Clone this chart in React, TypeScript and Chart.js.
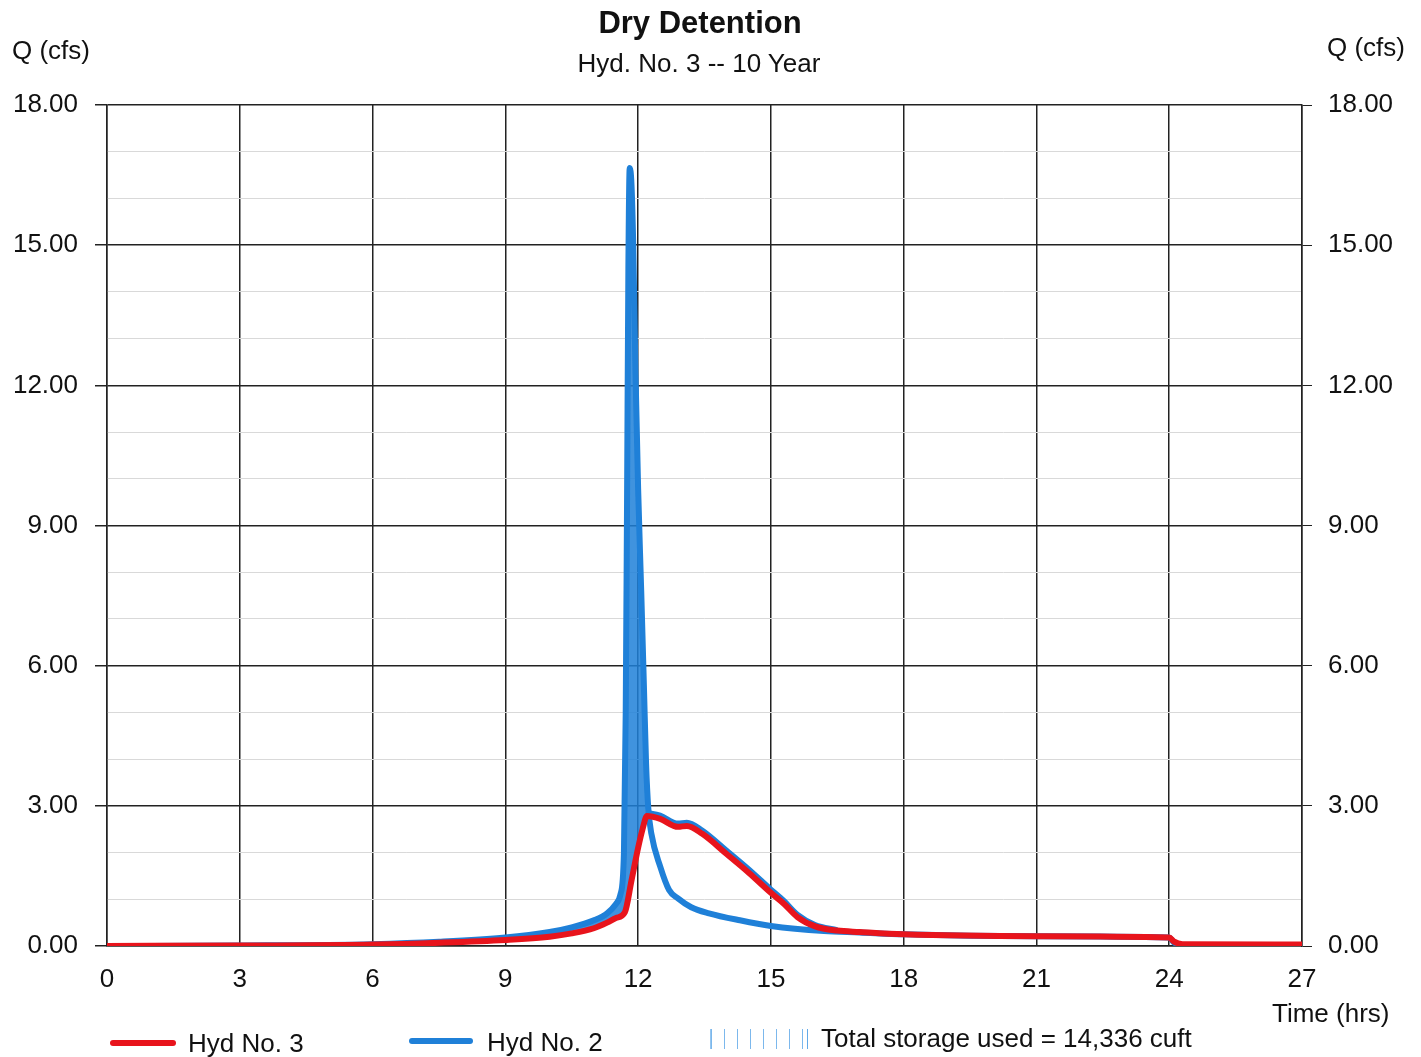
import React, { useEffect, useRef } from "react";
import { Chart, registerables } from "chart.js";

Chart.register(...registerables);

// ---- Data ----
const xTicks = [0, 3, 6, 9, 12, 15, 18, 21, 24, 27];
const yTickLabels = ["0.00", "3.00", "6.00", "9.00", "12.00", "15.00", "18.00"];

// Hyd No. 3 (outflow, red)
const hyd3Time = [0, 3, 6, 7.5, 9, 10, 10.5, 11, 11.3, 11.5, 11.7, 11.85, 12.0, 12.1, 12.2, 12.5, 12.9, 13.1, 13.45, 14.0, 14.5, 15.0, 15.3, 15.6, 16.0, 16.5, 17.0, 18.0, 21.0, 24.0, 24.1, 24.3, 27.0];
const hyd3Flow = [0, 0.01, 0.03, 0.07, 0.13, 0.2, 0.27, 0.38, 0.5, 0.6, 0.72, 1.4, 2.1, 2.5, 2.78, 2.72, 2.55, 2.57, 2.4, 1.97, 1.57, 1.14, 0.9, 0.62, 0.42, 0.33, 0.3, 0.25, 0.21, 0.18, 0.1, 0.04, 0.03];

// Hyd No. 2 (inflow, blue)
const hyd2Time = [0, 3, 6, 7.5, 9, 10, 10.5, 11, 11.3, 11.5, 11.6, 11.68, 11.72, 11.75, 11.78, 11.81, 11.85, 11.89, 11.94, 12.0, 12.07, 12.13, 12.18, 12.23, 12.3, 12.5, 12.7, 12.9, 13.2, 13.6, 14.3, 15.0, 16.2, 17.0, 18.0, 21.0, 24.0, 24.1, 24.3, 27.0];
const hyd2Flow = [0, 0.01, 0.04, 0.09, 0.18, 0.3, 0.4, 0.55, 0.7, 0.9, 1.1, 2.0, 5.0, 9.5, 14.5, 16.65, 16.3, 15.0, 12.3, 9.8, 7.6, 5.6, 3.9, 2.95, 2.4, 1.7, 1.2, 1.02, 0.83, 0.7, 0.55, 0.43, 0.32, 0.29, 0.25, 0.21, 0.18, 0.08, 0.02, 0.02];

// Blue storage outline visible just above the red recession limb
const edgeTime = [12.2, 12.5, 12.9, 13.1, 13.45, 14.0, 14.5, 15.0, 15.3, 15.6, 16.0, 16.5];
const edgeFlow = [2.86, 2.8, 2.63, 2.65, 2.48, 2.05, 1.65, 1.22, 0.97, 0.68, 0.46, 0.35];

const legendItems = ["Hyd No. 3", "Hyd No. 2", "Total storage used = 14,336 cuft"];

const RED = "#e8141c";
const BLUE = "#1f80d8";
const FONT = "'Liberation Sans', Arial, sans-serif";

const pts = (xs: number[], ys: number[]) => xs.map((x, i) => ({ x, y: ys[i] }));

export default function App() {
  const ref = useRef<HTMLCanvasElement | null>(null);

  useEffect(() => {
    document.body.style.margin = "0";
    const ctx = ref.current!.getContext("2d")!;
    const chart = new Chart(ctx, {
      type: "line",
      data: {
        datasets: [
          {
            label: legendItems[0],
            data: pts(hyd3Time, hyd3Flow),
            borderColor: RED,
            borderWidth: 6,
            pointRadius: 0,
            cubicInterpolationMode: "monotone",
            fill: false,
          },
          {
            label: "edge",
            data: pts(edgeTime, edgeFlow),
            borderColor: BLUE,
            borderWidth: 5,
            pointRadius: 0,
            cubicInterpolationMode: "monotone",
            fill: false,
          },
          {
            label: legendItems[1],
            data: pts(hyd2Time, hyd2Flow),
            borderColor: BLUE,
            borderWidth: 6,
            pointRadius: 0,
            cubicInterpolationMode: "monotone",
            fill: { target: 0, above: "rgba(31,128,216,0.85)", below: "rgba(0,0,0,0)" },
          },
        ],
      },
      options: {
        animation: false,
        responsive: false,
        layout: { padding: { top: 105, left: 0, right: 0, bottom: 0 } },
        plugins: { legend: { display: false }, tooltip: { enabled: false }, title: { display: false } },
        scales: {
          x: {
            type: "linear",
            min: 0,
            max: 27,
            afterBuildTicks: (s: any) => {
              s.ticks = xTicks.map((v) => ({ value: v }));
            },
            afterFit: (s: any) => {
              s.height = 111;
            },
            ticks: { color: "#111", font: { family: FONT, size: 26 }, padding: 14, maxRotation: 0 },
            grid: { color: "#222", lineWidth: 1.5, tickLength: 4, tickColor: "rgba(0,0,0,0)" },
            border: { color: "#222", width: 1.5 },
          },
          y: {
            position: "left",
            min: 0,
            max: 18,
            ticks: {
              stepSize: 1,
              color: "#111",
              font: { family: FONT, size: 26 },
              padding: 17,
              callback: (v: any) => (v % 3 === 0 ? yTickLabels[v / 3] : ""),
            },
            afterFit: (s: any) => {
              s.width = 107;
            },
            grid: {
              color: (c: any) => (c.tick && c.tick.value % 3 === 0 ? "#222" : "#d9d9d9"),
              lineWidth: (c: any) => (c.tick && c.tick.value % 3 === 0 ? 1.5 : 1),
              tickColor: (c: any) => (c.tick && c.tick.value % 3 === 0 ? "#222" : "rgba(0,0,0,0)"),
              tickLength: 12,
            },
            border: { color: "#222", width: 1.5 },
          },
          y2: {
            position: "right",
            min: 0,
            max: 18,
            ticks: {
              stepSize: 1,
              color: "#111",
              font: { family: FONT, size: 26 },
              padding: 16,
              callback: (v: any) => (v % 3 === 0 ? yTickLabels[v / 3] : ""),
            },
            afterFit: (s: any) => {
              s.width = 119;
            },
            grid: {
              drawOnChartArea: false,
              tickColor: (c: any) => (c.tick && c.tick.value % 3 === 0 ? "#222" : "rgba(0,0,0,0)"),
              tickLength: 10,
            },
            border: { color: "#222", width: 1.5 },
          },
        },
      },
    } as any);
    return () => chart.destroy();
  }, []);

  const txt = (s: React.CSSProperties): React.CSSProperties => ({
    position: "absolute",
    fontFamily: FONT,
    color: "#111",
    lineHeight: 1,
    whiteSpace: "nowrap",
    transform: "translateY(-50%)",
    ...s,
  });

  return (
    <div style={{ position: "fixed", left: 0, top: 0, width: 1421, height: 1057, background: "#fff" }}>
      <canvas ref={ref} width={1421} height={1057} style={{ position: "absolute", left: 0, top: 0 }} />
      <div style={txt({ left: 0, width: 1400, textAlign: "center", top: 22, fontSize: 31, fontWeight: "bold" })}>Dry Detention</div>
      <div style={txt({ left: 0, width: 1398, textAlign: "center", top: 63, fontSize: 26 })}>Hyd. No. 3 -- 10 Year</div>
      <div style={txt({ left: 12, top: 50, fontSize: 26 })}>Q (cfs)</div>
      <div style={txt({ left: 1327, top: 47, fontSize: 26 })}>Q (cfs)</div>
      <div style={txt({ left: 1272, top: 1013, fontSize: 26 })}>Time (hrs)</div>
      {/* legend */}
      <div style={{ position: "absolute", left: 110, top: 1040, width: 66, height: 6, background: RED, borderRadius: 3 }} />
      <div style={txt({ left: 188, top: 1043, fontSize: 26 })}>{legendItems[0]}</div>
      <div style={{ position: "absolute", left: 409, top: 1038, width: 64, height: 6, background: BLUE, borderRadius: 3 }} />
      <div style={txt({ left: 487, top: 1042, fontSize: 26 })}>{legendItems[1]}</div>
      <div
        style={{
          position: "absolute",
          left: 710,
          top: 1029,
          width: 96,
          height: 20,
          backgroundImage: "repeating-linear-gradient(to right, rgba(80,160,230,0.75) 0px, rgba(80,160,230,0.75) 1px, transparent 1px, transparent 13px)",
          borderLeft: "1px solid rgba(80,160,230,0.6)",
          borderRight: "1px solid rgba(80,160,230,0.6)",
        }}
      />
      <div style={txt({ left: 821, top: 1038, fontSize: 26 })}>{legendItems[2]}</div>
    </div>
  );
}
